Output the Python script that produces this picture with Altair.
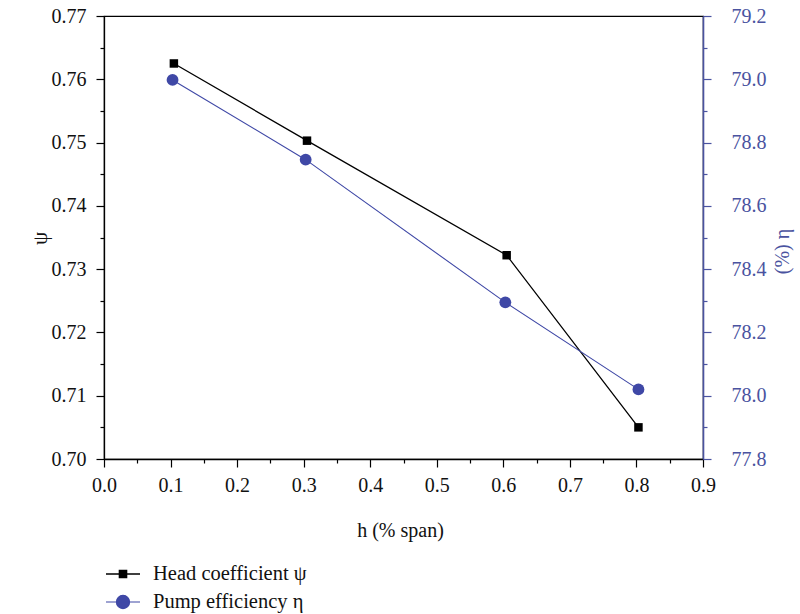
import altair as alt
import pandas as pd

# ---- data ----
h_psi = [0.105, 0.305, 0.605, 0.803]
psi = [0.7625, 0.7503, 0.7322, 0.7050]
h_eta = [0.103, 0.303, 0.603, 0.803]
eta = [78.998, 78.746, 78.295, 78.020]

x_ticks = [0.0, 0.05, 0.1, 0.15, 0.2, 0.25, 0.3, 0.35, 0.4, 0.45, 0.5,
           0.55, 0.6, 0.65, 0.7, 0.75, 0.8, 0.85, 0.9]
psi_ticks = [0.700, 0.705, 0.710, 0.715, 0.720, 0.725, 0.730, 0.735,
             0.740, 0.745, 0.750, 0.755, 0.760, 0.765, 0.770]
eta_ticks = [77.8, 77.9, 78.0, 78.1, 78.2, 78.3, 78.4, 78.5, 78.6,
             78.7, 78.8, 78.9, 79.0, 79.1, 79.2]

label_psi = "Head coefficient ψ"
label_eta = "Pump efficiency η"

df_psi = pd.DataFrame({"h": h_psi, "psi": psi, "series": label_psi})
df_eta = pd.DataFrame({"h": h_eta, "eta": eta, "series": label_eta})

FONT = "'Liberation Serif', 'DejaVu Serif', serif"
BLUE = "#3f48a6"
AXIS_BLUE = "#4a53a0"

MINOR_X = "abs(datum.value*10 - round(datum.value*10)) > 0.001"
MINOR_PSI = "abs(datum.value*100 - round(datum.value*100)) > 0.001"
MINOR_ETA = "abs(datum.value*5 - round(datum.value*5)) > 0.001"

x_enc = alt.X(
    "h:Q",
    scale=alt.Scale(domain=[0, 0.9], nice=False, zero=False),
    axis=alt.Axis(
        values=x_ticks,
        title="h (% span)",
        labelExpr=f"{MINOR_X} ? '' : format(datum.value, '.1f')",
        tickSize={"condition": {"test": MINOR_X, "value": 4}, "value": 8},
        labelPadding=8,
        titleX=296, titleY=71, titleAlign="center", titleBaseline="middle",
        labelFlush=False,
    ),
)

y_psi = alt.Y(
    "psi:Q",
    scale=alt.Scale(domain=[0.70, 0.77], nice=False, zero=False),
    axis=alt.Axis(
        orient="left",
        values=psi_ticks,
        title="ψ",
        labelExpr=f"{MINOR_PSI} ? '' : format(datum.value, '.2f')",
        tickSize={"condition": {"test": MINOR_PSI, "value": 4}, "value": 8},
        labelPadding=10,
        titleAngle=270,
        titleX=-64, titleY=222, titleAlign="center", titleBaseline="middle",
        titleFontSize=21,
        labelFlush=False,
    ),
)

y_eta = alt.Y(
    "eta:Q",
    scale=alt.Scale(domain=[77.8, 79.2], nice=False, zero=False),
    axis=alt.Axis(
        orient="right",
        values=eta_ticks,
        title="(%) η",
        labelExpr=f"{MINOR_ETA} ? '' : format(datum.value, '.1f')",
        tickSize={"condition": {"test": MINOR_ETA, "value": 4}, "value": 8},
        labelPadding=20,
        titleAngle=270,
        titleX=79, titleY=235, titleAlign="center", titleBaseline="middle",
        domainColor=AXIS_BLUE, tickColor=AXIS_BLUE,
        labelColor=AXIS_BLUE, titleColor=AXIS_BLUE,
        domainWidth=1.6,
        labelFlush=False,
    ),
)

SYM_SQ = "M-1,0H1M-0.215,-0.215H0.215V0.215H-0.215Z"
SYM_CI = "M-1,0H1M0.39,0A0.39,0.39 0 1,1 -0.39,0A0.39,0.39 0 1,1 0.39,0Z"


def legend(path, color, ly, sw):
    return alt.Legend(
        orient="none", legendX=1, legendY=ly, title=None,
        symbolType=path, symbolSize=1156, symbolStrokeWidth=sw,
        symbolFillColor=color, symbolStrokeColor=color, symbolOpacity=1,
        labelFont=FONT, labelFontSize=20.5, labelColor="#111111",
        labelOffset=12, padding=0, labelLimit=400,
    )


line_psi = alt.Chart(df_psi).mark_line(color="black", strokeWidth=1.3).encode(
    x=x_enc, y=y_psi)
pts_psi = alt.Chart(df_psi).mark_square(size=72, opacity=1, filled=True).encode(
    x=x_enc, y=y_psi,
    color=alt.Color("series:N",
                    scale=alt.Scale(domain=[label_psi], range=["black"]),
                    legend=legend(SYM_SQ, "black", 540, 1.3)),
)

line_eta = alt.Chart(df_eta).mark_line(color=BLUE, strokeWidth=1.1).encode(
    x=x_enc, y=y_eta)
pts_eta = alt.Chart(df_eta).mark_circle(size=140, opacity=1).encode(
    x=x_enc, y=y_eta,
    color=alt.Color("series:N",
                    scale=alt.Scale(domain=[label_eta], range=[BLUE]),
                    legend=legend(SYM_CI, BLUE, 568, 1.1)),
)

left = alt.layer(line_psi, pts_psi)
right = alt.layer(line_eta, pts_eta)

chart = (
    alt.layer(left, right)
    .resolve_scale(y="independent", color="independent")
    .properties(
        width=599, height=443,
        autosize=alt.AutoSizeParams(type="none"),
        padding={"left": 104, "top": 16, "right": 97, "bottom": 155},
    )
    .configure_view(stroke="black", strokeWidth=1.2)
    .configure_axis(
        grid=False,
        domainColor="black", tickColor="black",
        domainWidth=1.3, tickWidth=1.2,
        labelFont=FONT, labelFontSize=20, labelColor="#111111",
        titleFont=FONT, titleFontSize=20, titleColor="#111111",
        titleFontWeight="normal",
    )
)

chart.save("out.html", embed_options={"renderer": "svg", "actions": False})
